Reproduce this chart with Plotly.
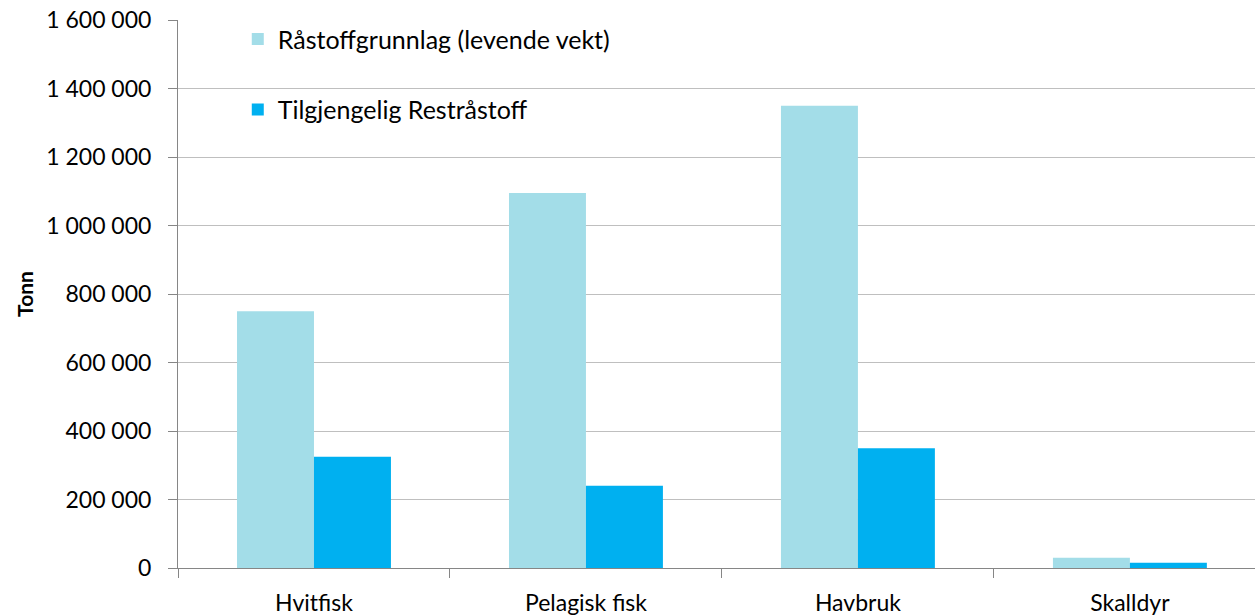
import plotly.graph_objects as go

categories = ["Hvitfisk", "Pelagisk fisk", "Havbruk", "Skalldyr"]
raastoff = [750000, 1095000, 1350000, 30000]
restraastoff = [325000, 240000, 350000, 15000]
series_names = ["Råstoffgrunnlag (levende vekt)", "Tilgjengelig Restråstoff"]

font_family = "Lato, 'Open Sans', sans-serif"

fig = go.Figure()
fig.add_trace(go.Bar(x=categories, y=raastoff, name=series_names[0],
                     marker=dict(color="#A3DDE8", line=dict(width=0)),
                     legendgroup="a"))
fig.add_trace(go.Bar(x=categories, y=restraastoff, name=series_names[1],
                     marker=dict(color="#00B0F0", line=dict(width=0)),
                     legendgroup="b"))

fig.update_layout(
    width=1255, height=615,
    margin=dict(l=178, r=0, t=20, b=47, autoexpand=False),
    paper_bgcolor="white", plot_bgcolor="white",
    barmode="group", bargap=0.434, bargroupgap=0,
    separators=", ",
    font=dict(family=font_family, size=22, color="#000000"),
    legend=dict(x=0.0555, y=1.007, xanchor="left", yanchor="top",
                bgcolor="rgba(0,0,0,0)", tracegroupgap=35,
                font=dict(size=25), itemwidth=30),
    showlegend=True,
)
fig.update_xaxes(range=[-0.5, 3.46],
                 showline=True, linecolor="#868686", linewidth=1,
                 ticks="outside", tickson="boundaries", ticklen=9,
                 tickcolor="#868686", showgrid=False, automargin=False,
                 ticklabelstandoff=14, tickfont=dict(size=23))
fig.update_yaxes(range=[0, 1600000], dtick=200000, tickformat=",d",
                 showline=True, linecolor="#868686", linewidth=1,
                 ticks="outside", ticklen=9, tickcolor="#868686",
                 showgrid=True, gridcolor="#BFBFBF", gridwidth=1,
                 zeroline=False, tickfont=dict(size=23), automargin=False,
                 ticklabelstandoff=12,
                 title=dict(text="<b>Tonn</b>", font=dict(size=21), standoff=6))

fig.write_html("out.html", config={"displayModeBar": False},
               post_script="document.body.style.margin='0';")
